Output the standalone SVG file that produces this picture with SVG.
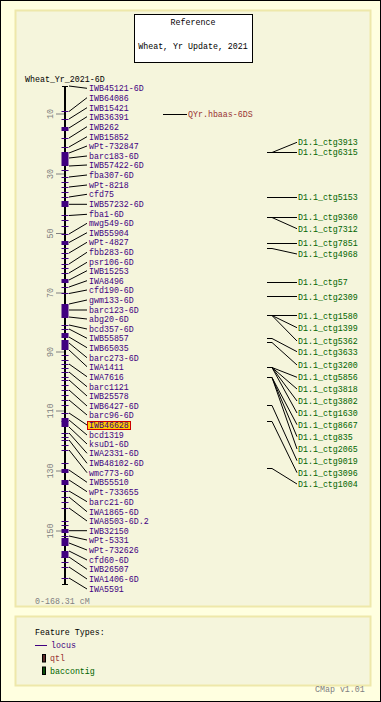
<svg xmlns="http://www.w3.org/2000/svg" width="381" height="702" viewBox="0 0 381 702">
<style>
text{font-family:"Liberation Mono","DejaVu Sans Mono",monospace;font-size:8.3px}
.blk{fill:#000}
.loc{fill:#400080}
.qtl{fill:#993333}
.bac{fill:#006400}
.gray{fill:#808080}
.con{stroke:#000;stroke-width:1;fill:none}
.tk{stroke:#400080;stroke-width:1}
.blkf{fill:#400080}
.sc{stroke:#808080;stroke-width:1}
.panel{fill:#f5f5dc;stroke:#eee8aa;stroke-width:2}
</style>
<rect x="0.5" y="0.5" width="380" height="701" fill="#ffffe0" stroke="#000"/>
<rect class="panel" x="15.5" y="10.5" width="355" height="596"/>
<rect class="panel" x="15.5" y="616.5" width="355" height="69"/>
<g id="title">
<rect x="134.5" y="14.5" width="118" height="48" fill="#fff" stroke="#000"/>
<text class="blk" x="193" y="25.3" text-anchor="middle">Reference</text>
<text class="blk" x="193" y="48.7" text-anchor="middle">Wheat, Yr Update, 2021</text>
</g>
<text id="maptitle" class="blk" x="25" y="82">Wheat_Yr_2021-6D</text>
<g id="scale">
<line class="sc" x1="56" y1="114" x2="64" y2="114"/><text class="gray" transform="translate(53,114) rotate(-90)" text-anchor="middle">10</text>
<line class="sc" x1="56" y1="174" x2="64" y2="174"/><text class="gray" transform="translate(53,174) rotate(-90)" text-anchor="middle">30</text>
<line class="sc" x1="56" y1="233.5" x2="64" y2="233.5"/><text class="gray" transform="translate(53,233.5) rotate(-90)" text-anchor="middle">50</text>
<line class="sc" x1="56" y1="293" x2="64" y2="293"/><text class="gray" transform="translate(53,293) rotate(-90)" text-anchor="middle">70</text>
<line class="sc" x1="56" y1="352" x2="64" y2="352"/><text class="gray" transform="translate(53,352) rotate(-90)" text-anchor="middle">90</text>
<line class="sc" x1="56" y1="411" x2="64" y2="411"/><text class="gray" transform="translate(53,411) rotate(-90)" text-anchor="middle">110</text>
<line class="sc" x1="56" y1="471" x2="64" y2="471"/><text class="gray" transform="translate(53,471) rotate(-90)" text-anchor="middle">130</text>
<line class="sc" x1="56" y1="531" x2="64" y2="531"/><text class="gray" transform="translate(53,531) rotate(-90)" text-anchor="middle">150</text>
<text class="gray" x="35" y="604">0-168.31 cM</text>
</g>
<g id="chromosome">
<rect x="64" y="86" width="2" height="499" fill="#000"/>
<line x1="62" y1="86.5" x2="68" y2="86.5" stroke="#000"/>
<line x1="62" y1="584.5" x2="68" y2="584.5" stroke="#000"/>
<g class="blkf">
<rect x="61.5" y="127" width="7" height="4"/>
<rect x="61.5" y="152" width="7" height="14"/>
<rect x="61.5" y="201" width="7" height="6"/>
<rect x="61.5" y="241" width="7" height="4"/>
<rect x="61.5" y="279" width="7" height="4"/>
<rect x="61.5" y="304" width="7" height="14"/>
<rect x="61.5" y="333" width="7" height="5"/>
<rect x="61.5" y="340" width="7" height="10"/>
<rect x="61.5" y="418" width="7" height="9"/>
<rect x="61.5" y="469" width="7" height="4"/>
<rect x="61.5" y="480" width="7" height="5"/>
<rect x="61.5" y="529" width="7" height="4"/>
<rect x="61.5" y="538" width="7" height="8"/>
<rect x="61.5" y="552" width="7" height="6"/>
</g>
<path class="tk" d="M61.5 111.5h7M61.5 119.5h7M61.5 138.5h7M61.5 147.5h7M61.5 170.5h7M61.5 177.5h7M61.5 182.5h7M61.5 187.5h7M61.5 192.5h7M61.5 197.5h7M61.5 215.5h7M61.5 220.5h7M61.5 226.5h7M61.5 234.5h7M61.5 248.5h7M61.5 253.5h7M61.5 258.5h7M61.5 264.5h7M61.5 268.5h7M61.5 273.5h7M61.5 287.5h7M61.5 293.5h7M61.5 325.5h7M61.5 329.5h7M61.5 355.5h7M61.5 360.5h7M61.5 364.5h7M61.5 368.5h7M61.5 372.5h7M61.5 377.5h7M61.5 380.5h7M61.5 385.5h7M61.5 390.5h7M61.5 395.5h7M61.5 400.5h7M61.5 405.5h7M61.5 413.5h7M61.5 421.5h7M61.5 433.5h7M61.5 437.5h7M61.5 440.5h7M61.5 445.5h7M61.5 450.5h7M61.5 463.5h7M61.5 491.5h7M61.5 497.5h7M61.5 502.5h7M61.5 508.5h7M61.5 521.5h7M61.5 525.5h7M61.5 536.5h7M61.5 551.5h7M61.5 557.5h7M61.5 562.5h7M61.5 567.5h7M61.5 578.5h7"/>
</g>
<g id="connectors">
<path class="con" d="M69 86L87 88.3M69 111.5L87 97.7M69 119L87 107.7M69 128L87 116.7M69 138L87 126.7M69 147L87 136.7M69 153L87 146M69 158L87 156M69 166L87 165M69 177L87 175M69 187L87 185M69 197L87 194.3M69 204.3L87 204.3M69 215.5L87 214.3M69 234L87 223.3M69 242.5L87 232.7M69 253L87 242.3M69 264L87 252.3M69 273L87 262.3M69 280L87 270.7M69 287L87 280.7M69 293.5L87 290M69 304L87 300M69 310L87 310M69 317L87 319M69 325L87 329M69 329L87 338.3M69 337L87 347.7M69 343L87 357.7M69 350L87 366.7M69 364L87 376.7M69 372L87 386.7M69 380L87 396M69 390L87 406M69 400L87 415M69 413L87 425M69 420L87 435M69 427L87 444M69 433L87 453.3M69 440L87 463.3M69 450L87 472.7M69 470L87 482.3M69 480L87 491.7M69 491L87 501.7M69 497L87 511.7M69 508L87 521M69 530.7L87 530.7M69 536L87 540M69 543L87 550M69 551L87 560M69 557L87 569.3M69 567L87 579M69 578L87 589"/>
<path class="con" d="M163 114.5H187"/>
<path class="con" d="M267 152.5h5L297 142.3M267 152.5H297M267 197.5H297M267 217.5H297M267 217.5h5L297 228.7M267 243.5H297M267 248.5h5L297 254M267 282.5H297M267 296.5H297M267 315.5H297M267 315.5h5L297 327.7M267 315.5h5L297 341M267 338.5h5L297 351.7M267 342.5h5L297 365M267 367.5h5L297 377.3M267 367.5h5L297 389M267 367.5h5L297 401M267 367.5h5L297 413M267 377.5h5L297 424.7M267 377.5h5L297 436.7M267 377.5h5L297 449M267 405.5h5L297 460.7M267 421.5h5L297 472.7M267 468.5h5L297 484"/>
</g>
<g id="loci" class="loc">
<text x="89" y="91.3">IWB45121-6D</text>
<text x="89" y="100.7">IWB64086</text>
<text x="89" y="110.7">IWB15421</text>
<text x="89" y="119.7">IWB36391</text>
<text x="89" y="129.7">IWB262</text>
<text x="89" y="139.7">IWB15852</text>
<text x="89" y="149">wPt-732847</text>
<text x="89" y="159">barc183-6D</text>
<text x="89" y="168">IWB57422-6D</text>
<text x="89" y="178">fba307-6D</text>
<text x="89" y="188">wPt-8218</text>
<text x="89" y="197.3">cfd75</text>
<text x="89" y="207.3">IWB57232-6D</text>
<text x="89" y="217.3">fba1-6D</text>
<text x="89" y="226.3">mwg549-6D</text>
<text x="89" y="235.7">IWB55904</text>
<text x="89" y="245.3">wPt-4827</text>
<text x="89" y="255.3">fbb283-6D</text>
<text x="89" y="265.3">psr106-6D</text>
<text x="89" y="273.7">IWB15253</text>
<text x="89" y="283.7">IWA8496</text>
<text x="89" y="293">cfd190-6D</text>
<text x="89" y="303">gwm133-6D</text>
<text x="89" y="313">barc123-6D</text>
<text x="89" y="322">abg20-6D</text>
<text x="89" y="332">bcd357-6D</text>
<text x="89" y="341.3">IWB55857</text>
<text x="89" y="350.7">IWB65035</text>
<text x="89" y="360.7">barc273-6D</text>
<text x="89" y="369.7">IWA1411</text>
<text x="89" y="379.7">IWA7616</text>
<text x="89" y="389.7">barc1121</text>
<text x="89" y="399">IWB25578</text>
<text x="89" y="409">IWB6427-6D</text>
<text x="89" y="418">barc96-6D</text>
<rect x="87.5" y="421.5" width="43" height="8" fill="#ffcc00" stroke="#cc0000"/>
<text x="89" y="428">IWB46628</text>
<text x="89" y="438">bcd1319</text>
<text x="89" y="447">ksuD1-6D</text>
<text x="89" y="456.3">IWA2331-6D</text>
<text x="89" y="466.3">IWB48102-6D</text>
<text x="89" y="475.7">wmc773-6D</text>
<text x="89" y="485.3">IWB55510</text>
<text x="89" y="494.7">wPt-733655</text>
<text x="89" y="504.7">barc21-6D</text>
<text x="89" y="514.7">IWA1865-6D</text>
<text x="89" y="524">IWA8503-6D.2</text>
<text x="89" y="533.7">IWB32150</text>
<text x="89" y="543">wPt-5331</text>
<text x="89" y="553">wPt-732626</text>
<text x="89" y="563">cfd60-6D</text>
<text x="89" y="572.3">IWB26507</text>
<text x="89" y="582">IWA1406-6D</text>
<text x="89" y="592">IWA5591</text>
</g>
<g id="qtl-QYr"><text class="qtl" x="188" y="117.3">QYr.hbaas-6DS</text></g>
<g id="contigs" class="bac">
<text x="298" y="145.3">D1.1_ctg3913</text>
<text x="298" y="155.3">D1.1_ctg6315</text>
<text x="298" y="200.3">D1.1_ctg5153</text>
<text x="298" y="220">D1.1_ctg9360</text>
<text x="298" y="231.7">D1.1_ctg7312</text>
<text x="298" y="246.3">D1.1_ctg7851</text>
<text x="298" y="257">D1.1_ctg4968</text>
<text x="298" y="285.3">D1.1_ctg57</text>
<text x="298" y="299.7">D1.1_ctg2309</text>
<text x="298" y="318.7">D1.1_ctg1580</text>
<text x="298" y="330.7">D1.1_ctg1399</text>
<text x="298" y="344">D1.1_ctg5362</text>
<text x="298" y="354.7">D1.1_ctg3633</text>
<text x="298" y="368">D1.1_ctg3200</text>
<text x="298" y="380.3">D1.1_ctg5856</text>
<text x="298" y="392">D1.1_ctg3818</text>
<text x="298" y="404">D1.1_ctg3802</text>
<text x="298" y="416">D1.1_ctg1630</text>
<text x="298" y="427.7">D1.1_ctg8667</text>
<text x="298" y="439.7">D1.1_ctg835</text>
<text x="298" y="452">D1.1_ctg2065</text>
<text x="298" y="463.7">D1.1_ctg9019</text>
<text x="298" y="475.7">D1.1_ctg3096</text>
<text x="298" y="487">D1.1_ctg1004</text>
</g>
<g id="legend">
<text class="blk" x="35" y="634.7">Feature Types:</text>
<line x1="35" y1="645.5" x2="47" y2="645.5" stroke="#400080"/>
<text class="loc" x="51" y="648">locus</text>
<rect x="42.5" y="654.5" width="3" height="7.5" fill="#5c2a2a" stroke="#000"/>
<text class="qtl" x="50" y="661">qtl</text>
<rect x="42.5" y="667" width="3" height="7.5" fill="#0b4d0b" stroke="#000"/>
<text class="bac" x="50" y="674">baccontig</text>
<text class="gray" x="315" y="692">CMap v1.01</text>
</g>
</svg>
